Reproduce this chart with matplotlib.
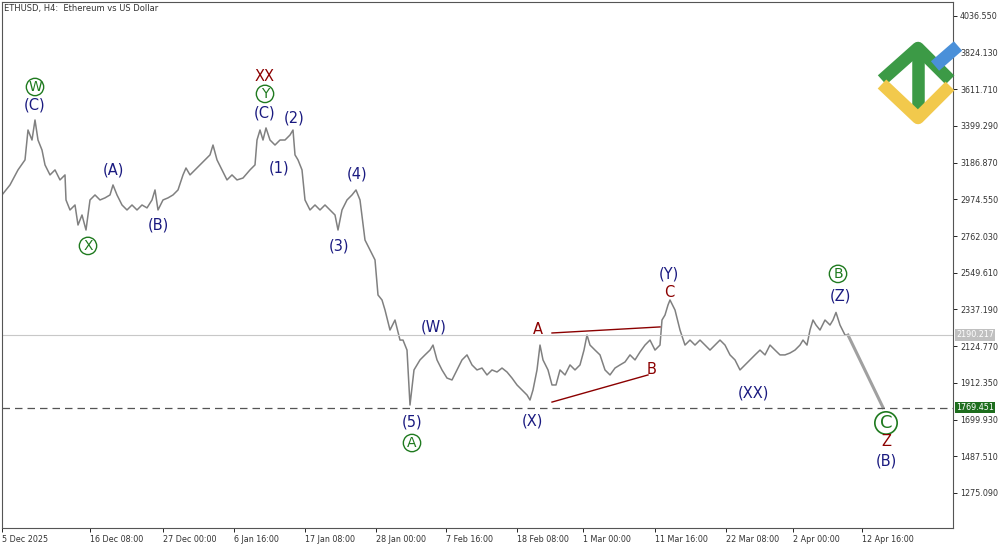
import matplotlib
matplotlib.use("Agg")
import matplotlib.pyplot as plt
from matplotlib.lines import Line2D

# time index (bar offset units) and close prices
t = [2,10,18,25,28,32,35,38,42,45,50,55,60,65,66,70,75,78,82,86,90,95,100,105,110,113,117,122,127,132,137,142,147,152,155,158,163,168,173,178,183,186,190,195,200,205,210,213,217,222,227,232,237,243,250,255,257,260,263,266,270,275,280,285,290,293,295,298,302,305,310,315,320,325,330,335,338,342,347,352,356,360,365,370,375,378,382,385,390,395,400,403,407,410,414,420,425,430,433,437,442,447,452,457,462,467,472,477,482,487,492,497,502,507,512,517,522,527,530,533,537,540,543,548,552,556,560,565,570,575,580,584,587,590,595,600,605,610,615,620,625,630,635,640,645,650,655,660,662,665,668,670,675,680,685,690,695,700,705,710,715,720,725,730,735,740,745,750,755,760,765,770,775,780,785,790,795,800,803,807,810,813,816,820,825,830,833,836,840,845,848]
price = [3000,3058,3145,3203,3376,3318,3434,3318,3260,3174,3116,3145,3087,3116,2971,2913,2942,2826,2884,2797,2971,3000,2971,2983,3000,3058,3000,2942,2913,2942,2913,2942,2925,2971,3029,2913,2971,2983,3000,3029,3116,3156,3116,3145,3174,3203,3232,3289,3203,3145,3087,3116,3087,3098,3145,3174,3318,3376,3318,3388,3318,3289,3318,3318,3347,3376,3232,3203,3145,2971,2913,2942,2913,2942,2913,2884,2797,2913,2971,3000,3029,2971,2739,2681,2624,2421,2392,2334,2218,2276,2160,2160,2102,1784,1987,2045,2074,2102,2131,2045,1987,1940,1929,1987,2045,2074,2016,1987,1998,1958,1987,1975,1998,1975,1940,1900,1871,1842,1813,1871,1987,2131,2045,1987,1900,1900,1987,1958,2016,1987,2016,2102,2189,2131,2102,2074,1987,1958,1998,2016,2033,2074,2045,2091,2131,2160,2102,2131,2276,2305,2363,2392,2334,2218,2131,2160,2131,2160,2131,2102,2131,2160,2131,2074,2045,1987,2016,2045,2074,2102,2074,2131,2102,2074,2074,2085,2102,2131,2160,2131,2218,2276,2247,2218,2276,2247,2276,2320,2247,2189,2189]
proj_t = [848, 883]
proj_p = [2189, 1769.451]
line_lvl = 2190.217
support = 1769.451

tick_pos = [2,90,163,234,305,376,446,517,583,655,726,793,862]
tick_lab = ["5 Dec 2025","16 Dec 08:00","27 Dec 00:00","6 Jan 16:00","17 Jan 08:00","28 Jan 00:00","7 Feb 16:00","18 Feb 08:00","1 Mar 00:00","11 Mar 16:00","22 Mar 08:00","2 Apr 00:00","12 Apr 16:00"]
yticks = [4036.550,3824.130,3611.710,3399.290,3186.870,2974.550,2762.030,2549.610,2337.190,2124.770,1912.350,1699.930,1487.510,1275.090]

NAVY, GREEN, RED = "#1a1a80", "#1f7a1f", "#8b0000"
labels = [
 (35,3520,"(C)",NAVY,False),(35,3625,"W",GREEN,True),
 (265,3683,"XX",RED,False),(265,3585,"Y",GREEN,True),(265,3475,"(C)",NAVY,False),
 (294,3446,"(2)",NAVY,False),(279,3156,"(1)",NAVY,False),(113,3145,"(A)",NAVY,False),
 (158,2826,"(B)",NAVY,False),(88,2705,"X",GREEN,True),(357,3122,"(4)",NAVY,False),
 (339,2705,"(3)",NAVY,False),(434,2236,"(W)",NAVY,False),(412,1686,"(5)",NAVY,False),
 (412,1564,"A",GREEN,True),(538,2224,"A",RED,False),(652,1992,"B",RED,False),
 (532,1692,"(X)",NAVY,False),(669,2543,"(Y)",NAVY,False),(669,2438,"C",RED,False),
 (753,1854,"(XX)",NAVY,False),(838,2543,"B",GREEN,True),(840,2415,"(Z)",NAVY,False),
 (886,1680,"C",GREEN,True),(886,1570,"Z",RED,False),(886,1460,"(B)",NAVY,False),
]
tri_up = ([552,660],[2201,2236])
tri_dn = ([552,648],[1801,1958])

fig = plt.figure(figsize=(10,5.45), dpi=100)
ax = fig.add_axes([0.002, 1-528/545, 0.951, 526/545])
ax.set_xlim(2,953); ax.set_ylim(1072,4117)
ax.plot(t, price, color="#808080", lw=1.1)
ax.plot(proj_t, proj_p, color="#a0a0a0", lw=2.2)
ax.axhline(line_lvl, color="#c8c8c8", lw=0.8)
ax.axhline(support, color="#555555", lw=0.9, ls=(0,(6,4)))
ax.plot(*tri_up, color=RED, lw=1); ax.plot(*tri_dn, color=RED, lw=1)
for x,y,s,c,circ in labels:
    big = (x == 886 and s == "C")
    if circ:
        ax.text(x,y,s,color=c,fontsize=13 if big else 10,ha="center",va="center",
                bbox=dict(boxstyle="circle,pad=0.12",fc="none",ec=c,lw=1.2 if big else 1))
    else:
        ax.text(x,y,s,color=c,fontsize=10.5,ha="center",va="center")
ax.yaxis.tick_right()
ax.set_yticks(yticks); ax.set_yticklabels([f"{v:.3f}" for v in yticks], fontsize=5.8, color="#333")
ax.set_xticks(tick_pos); ax.set_xticklabels(tick_lab, fontsize=5.8, color="#333", ha="left")
ax.tick_params(length=3, width=0.6, pad=2)
for s in ax.spines.values(): s.set_color("#555"); s.set_linewidth(0.8)
ax.text(4, 4080, "ETHUSD, H4:  Ethereum vs US Dollar", fontsize=6, color="#333", va="center")
for v,bg in [(line_lvl,"#c0c0c0"),(support,"#1e6e1e")]:
    ax.text(956, v, f"{v:.3f}", transform=ax.transData, fontsize=5.8, color="white", va="center",
            bbox=dict(boxstyle="square,pad=0.15", fc=bg, ec="none"), clip_on=False)
# logo (figure pixel coords)
def L(xs, ys, c):
    fig.add_artist(Line2D([x/1000 for x in xs], [1-y/545 for y in ys], color=c, lw=9, solid_capstyle="butt", transform=fig.transFigure))
L([882,918,950],[80,48,80],"#3c9a46"); L([918,918],[48,110],"#3c9a46")
L([882,918,950],[84,118,86],"#f2c94c"); L([935,958],[66,46],"#4a90d9")
fig.savefig("out.png", dpi=100)
